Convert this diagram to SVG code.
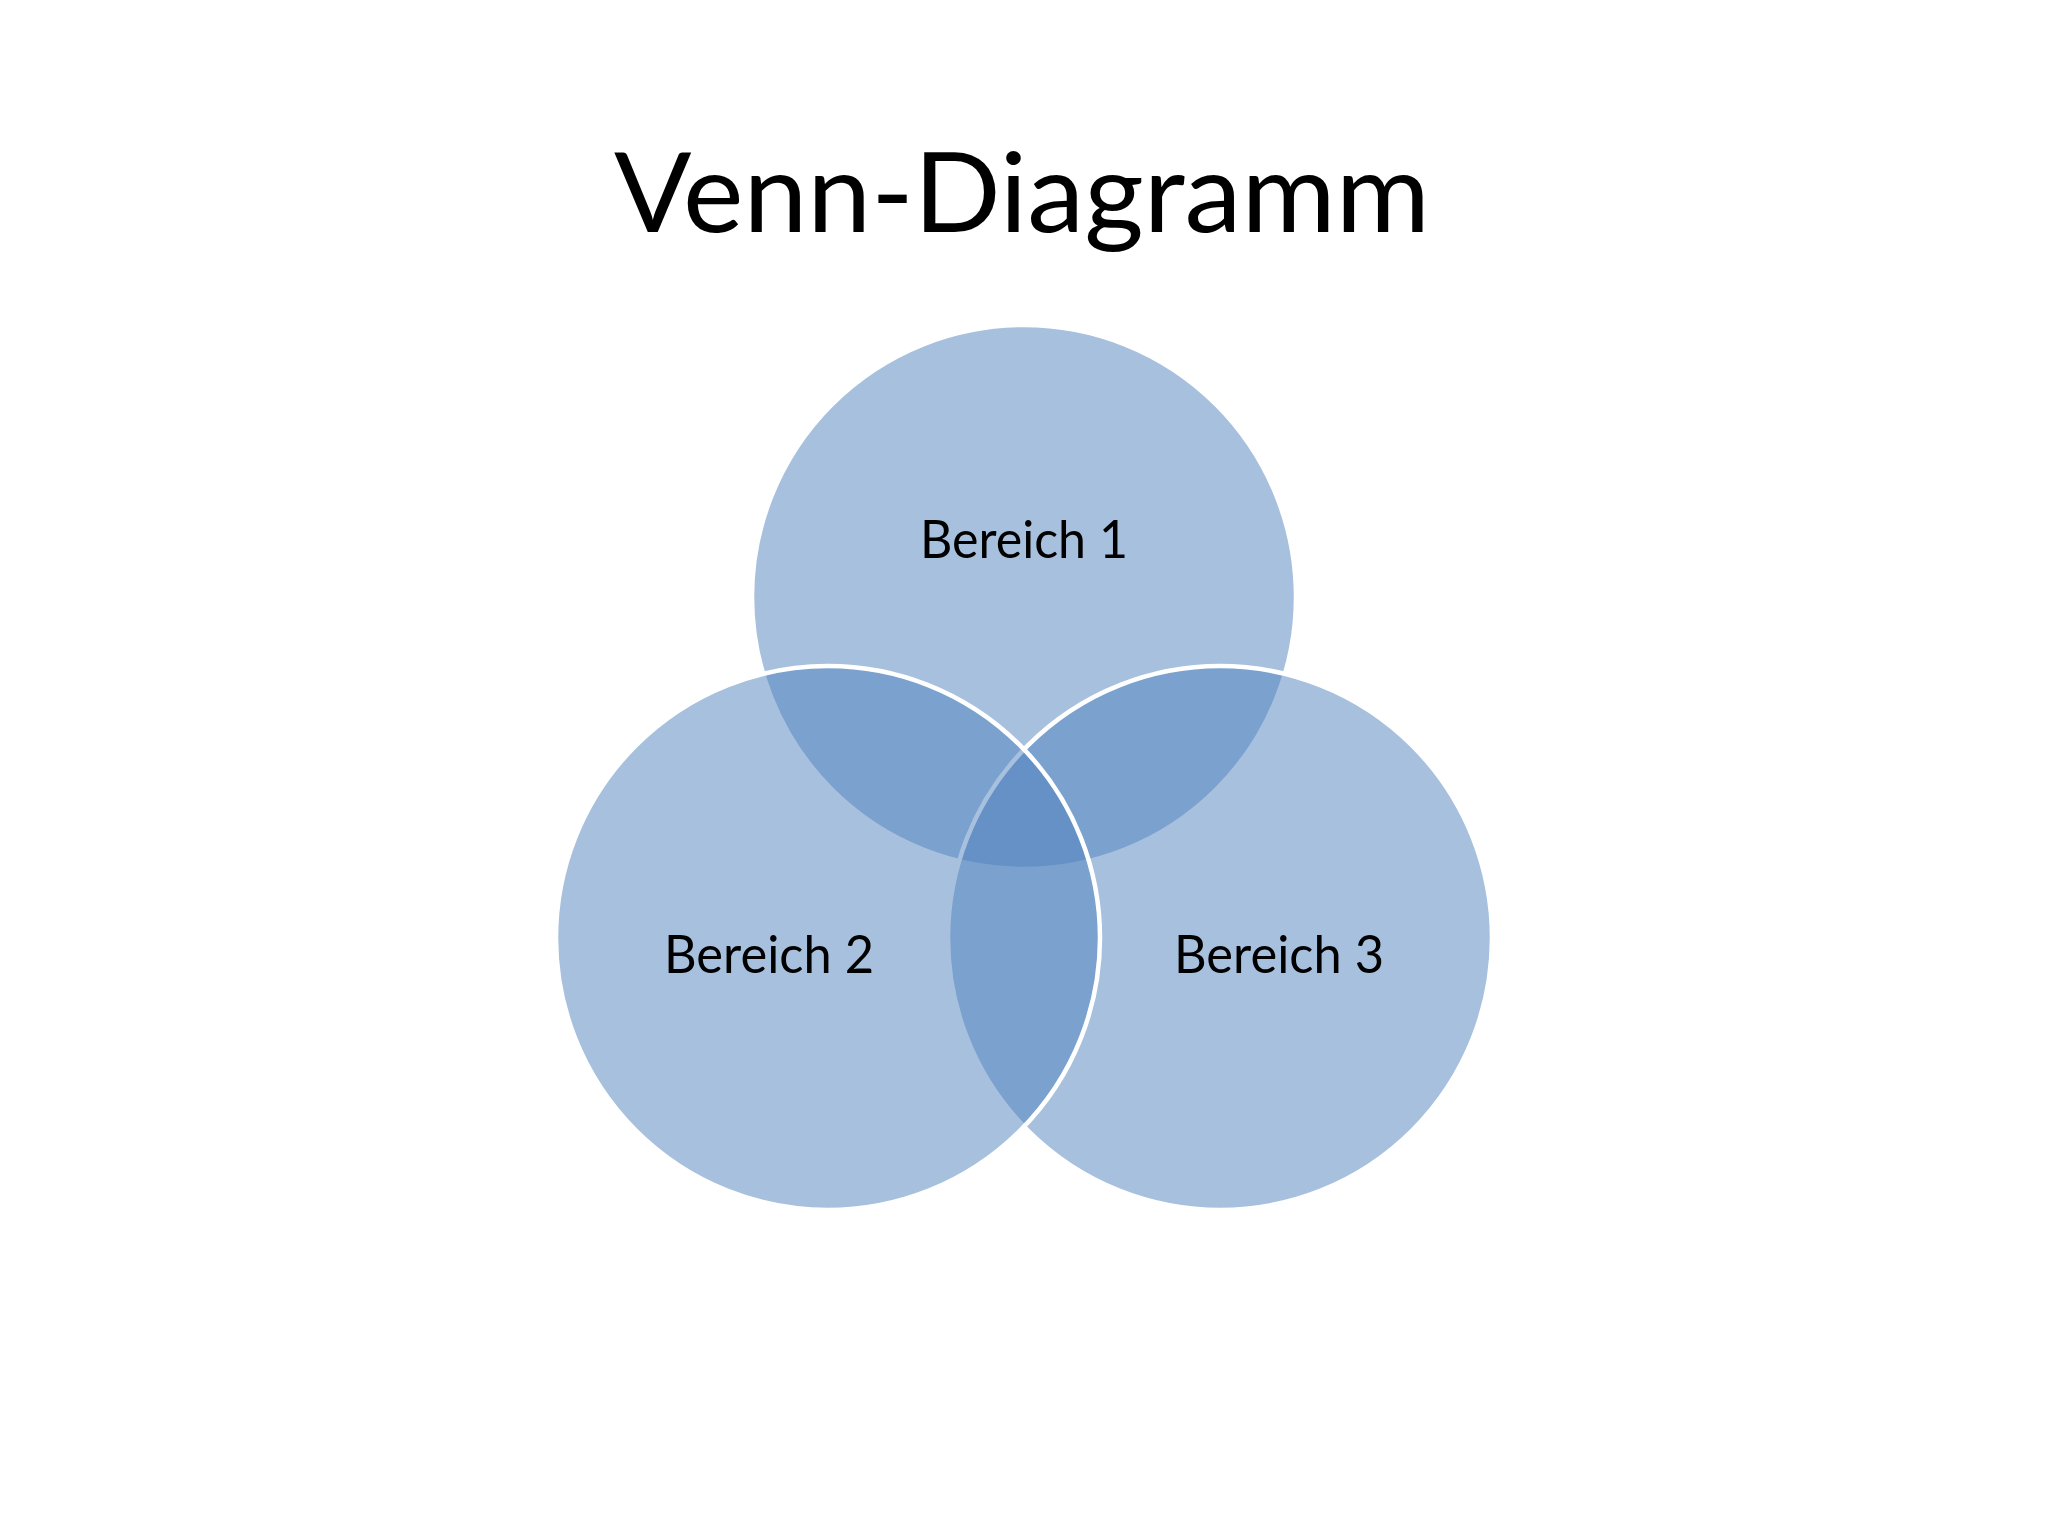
<svg xmlns="http://www.w3.org/2000/svg" width="2048" height="1536" viewBox="0 0 2048 1536">
<style>
.c{fill:#4F81BD;fill-opacity:0.5;stroke:#FFFFFF;stroke-width:4.5}
.t{font-family:Lato,"Open Sans","Liberation Sans",sans-serif;fill:#000;text-anchor:middle}
.l{font-size:52px}
</style>
<rect width="2048" height="1536" fill="#FFFFFF"/>
<text class="t" x="1022" y="232" font-size="110" textLength="816" lengthAdjust="spacingAndGlyphs">Venn-Diagramm</text>
<g id="connectors"/>
<g id="bereich1">
<circle class="c" cx="1024" cy="597" r="272"/>
<text class="t l" x="1024" y="558" textLength="208" lengthAdjust="spacingAndGlyphs">Bereich 1</text>
</g>
<g id="bereich3">
<circle class="c" cx="1220" cy="938" r="272"/>
<text class="t l" x="1279" y="973" textLength="210" lengthAdjust="spacingAndGlyphs">Bereich 3</text>
</g>
<g id="bereich2">
<circle class="c" cx="828" cy="938" r="272"/>
<text class="t l" x="769" y="973" textLength="210" lengthAdjust="spacingAndGlyphs">Bereich 2</text>
</g>
</svg>
